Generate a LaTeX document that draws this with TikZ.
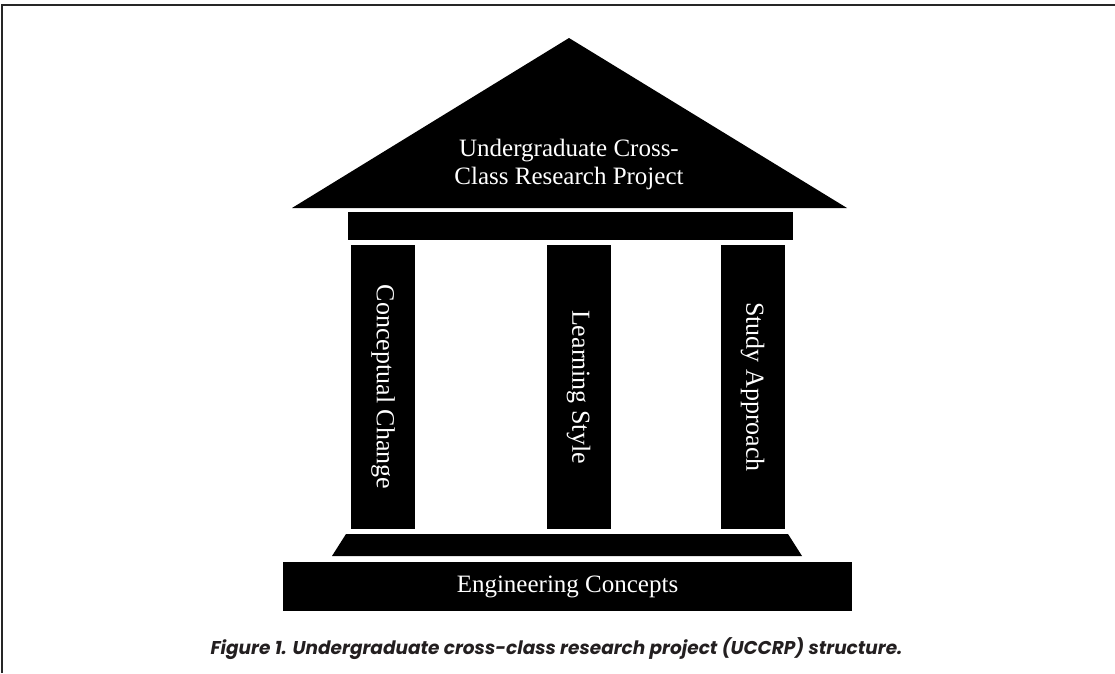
\documentclass[tikz,border=0pt]{standalone}
\usepackage{fontspec}
\setmainfont{Liberation Serif}
\newfontfamily\capfont{Poppins}
\usetikzlibrary{positioning}
\definecolor{capgray}{HTML}{231F20}

\begin{document}
\begin{tikzpicture}[x=1pt, y=-1pt,
	block/.style={fill=black, inner sep=0pt, text=white, font=\fontsize{25}{28}\selectfont},
	pillar/.style={block, rotate=-90, minimum width=284pt, minimum height=64pt, font=\fontsize{26}{28}\selectfont}]
	\useasboundingbox (0,0) rectangle (1115,673);
	\draw[line width=1.4pt, black!85] (2,673) -- (2,5) -- (1115,5);

	% roof and beam
	\fill (292,208) -- (569,38) -- (847,208) -- cycle;
	\node[block, fill=none, align=center] (roof) at (569,164) {Undergraduate Cross-\\Class Research Project};
	\node[block, minimum width=445pt, minimum height=28pt] (beam) at (570.5,226) {};

	% pillars
	\node[pillar] (change) at (383,387) {Conceptual Change};
	\node[pillar] (lstyle) at (578.5,387) {Learning Style};
	\node[pillar] (approach) at (752.5,387) {Study Approach};

	% step and base
	\fill (346,534) -- (788,534) -- (802,556) -- (332,556) -- cycle;
	\node[block, minimum width=569pt, minimum height=49pt] (base) at (567.5,586.5) {Engineering Concepts};

	\node[anchor=base, text=capgray, font=\capfont\bfseries\itshape\fontsize{18.5}{22}\selectfont] (caption) at (556.5,654) {Figure 1. Undergraduate cross-class research project (UCCRP) structure.};
\end{tikzpicture}
\end{document}
